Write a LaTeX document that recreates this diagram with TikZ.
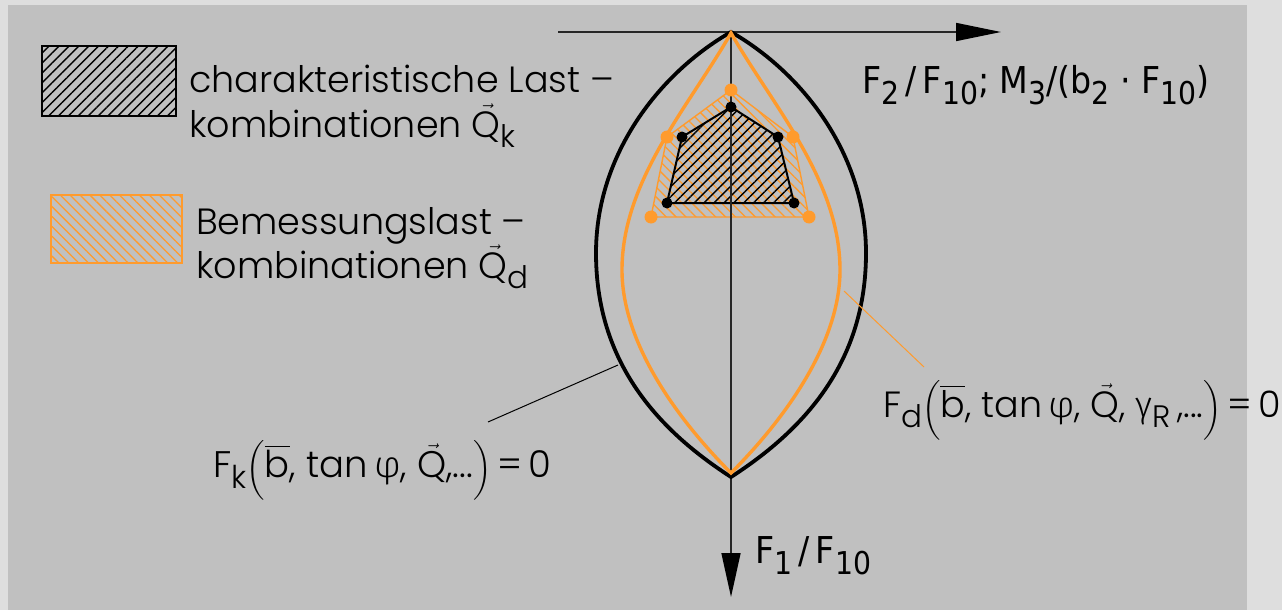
\documentclass[tikz,border=0pt]{standalone}
\usepackage{amsmath}
\usepackage{fontspec}
\setmainfont{Poppins}[UprightFont={* Light}]
\newfontfamily\grk{Fira Sans Light}
\newfontfamily\axf{DejaVu Sans Condensed}
\usepackage{tikz}
\usetikzlibrary{arrows.meta,patterns.meta,calc}
\definecolor{panelgray}{HTML}{C0C0C0}
\definecolor{framegray}{HTML}{DEDEDE}
\definecolor{lastorange}{RGB}{255,155,45}
\newcommand{\sub}[1]{\raisebox{-0.3em}{\scalebox{0.85}{#1}}}
\newcommand{\vQ}{$\vec{\text{Q}}$}

\begin{document}
\begin{tikzpicture}[x=1pt,y=-1pt,
    axis/.style={line width=1.6pt,black!85},
    lensk/.style={line width=3.8pt,black},
    lensd/.style={line width=3.4pt,lastorange},
    polyk/.style={line width=2pt,black,pattern={Lines[angle=45,distance=7pt,line width=1.4pt]},pattern color=black},
    polyd/.style={line width=1.4pt,lastorange,pattern={Lines[angle=-45,distance=7pt,line width=1.3pt]},pattern color=lastorange},
    lab/.style={anchor=base west,inner sep=0pt,align=left}]
  % pixel grid of the 1282x610 sheet, y downwards
  \useasboundingbox (0,0) rectangle (1282,610);
  \fill[framegray] (0,0) rectangle (1282,610);
  \fill[panelgray] (8,5) rectangle (1247,610);

  % legend (base of a two-line node = base of its last line)
  \draw[polyk] (42,46) rectangle (176,116);
  \draw[polyd] (51,195) rectangle (182,263);
  \node[lab,font=\fontsize{36.5}{45}\selectfont] (legk) at (189,137)
    {charakteristische Last --\\kombinationen \vQ\sub{k}};
  \node[lab,font=\fontsize{36.5}{38}\selectfont] (legd) at (196,278)
    {Bemessungslast --\\kombinationen \vQ\sub{d}};

  % axes
  \coordinate (top) at (731,32);
  \coordinate (xbeg) at (558,32);
  \coordinate (xend) at (1001,32);
  \coordinate (yend) at (731,597);
  \draw[axis,-{Triangle[length=45pt,width=18pt,color=black]}] (xbeg) -- (xend);

  % load combinations
  \coordinate (d1) at (731,90);  \coordinate (d2) at (793,137); \coordinate (d3) at (809,217);
  \coordinate (d4) at (651,217); \coordinate (d5) at (667,137);
  \coordinate (k1) at (731,107); \coordinate (k2) at (778,137); \coordinate (k3) at (794,203);
  \coordinate (k4) at (667,203); \coordinate (k5) at (682,137);
  \draw[polyd] (d1) -- (d2) -- (d3) -- (d4) -- (d5) -- cycle;
  \draw[polyk] (k1) -- (k2) -- (k3) -- (k4) -- (k5) -- cycle;
  \draw[axis,-{Triangle[length=44pt,width=19pt,color=black]}] (top) -- (yend);

  % limit curves
  \draw[lensk] (top) .. controls (661,72) and (596,153) .. (596,253)
    .. controls (596,360) and (655,428) .. (731,477)
    .. controls (807,428) and (866,360) .. (866,253)
    .. controls (866,153) and (801,72) .. cycle;
  \draw[lensd] (731,33) .. controls (690,105) and (622,180) .. (622,270)
    .. controls (622,350) and (688,430) .. (731,473)
    .. controls (774,430) and (840,350) .. (840,270)
    .. controls (840,180) and (772,105) .. cycle;
  \foreach \p in {d1,d2,d3,d4,d5} \fill[lastorange] (\p) circle (6.5);
  \foreach \p in {k1,k2,k3,k4,k5} \fill[black] (\p) circle (5.5);

  % labels
  \node[lab,font=\axf\fontsize{37}{40}\selectfont] (f2) at (862,93)
    {F\sub{2}\,/\,F\sub{10}; M\sub{3}/(b\sub{2} · F\sub{10})};
  \node[lab,font=\axf\fontsize{37}{40}\selectfont] (f1) at (755,563)
    {F\sub{1}\,/\,F\sub{10}};
  \node[lab,font=\fontsize{37}{40}\selectfont] (fk) at (213,477)
    {F\sub{k}$\left(\overline{\text{b}}\text{, tan\,{\grk φ}, }\vec{\text{Q}}\text{,...}\right)$\,=\,0};
  \node[lab,font=\fontsize{36.5}{40}\selectfont] (fd) at (883,417)
    {F\sub{d}$\left(\overline{\text{b}}\text{, tan\,{\grk φ}, }\vec{\text{Q}}\text{, {\grk γ}\sub{R}\,,...}\right)$\,=\,0};
  \coordinate (kfoot) at (618,365);
  \coordinate (kend) at (488,422);
  \coordinate (dfoot) at (844,291);
  \coordinate (dend) at (924,367);
  \draw[line width=1pt] (kfoot) -- (kend);
  \draw[line width=1pt,lastorange] (dfoot) -- (dend);
\end{tikzpicture}
\end{document}
